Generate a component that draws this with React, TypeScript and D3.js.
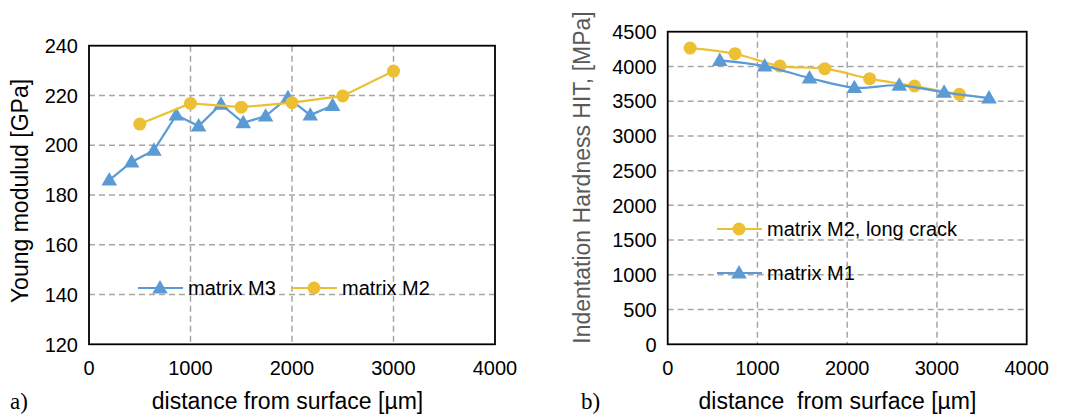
import React from "react";
import * as d3 from "d3";

// ---- data: panel a) ----
const aM3X = [200, 420, 640, 860, 1080, 1300, 1520, 1740, 1960, 2180, 2400];
const aM3Y = [186, 193.3, 198, 212.1, 207.7, 216.5, 209, 211.7, 219.1, 212.1, 216];
const aM2X = [500, 1000, 1500, 2000, 2500, 3000];
const aM2Y = [208.5, 216.8, 215.3, 217.1, 219.8, 229.8];
const aYTicks = [120, 140, 160, 180, 200, 220, 240];
const xTicks = [0, 1000, 2000, 3000, 4000];

// ---- data: panel b) ----
const bM2X = [250, 750, 1250, 1750, 2250, 2750, 3250];
const bM2Y = [4264, 4183, 4005, 3968, 3824, 3718, 3598];
const bM1X = [580, 1080, 1580, 2080, 2580, 3080, 3580];
const bM1Y = [4087, 4005, 3833, 3695, 3728, 3627, 3545];
const bYTicks = [0, 500, 1000, 1500, 2000, 2500, 3000, 3500, 4000, 4500];

const BLUE = "#5B9BD5";
const GOLD = "#EDBF33";
const GRID = "#A6A6A6";
const SANS = "'Liberation Sans', Arial, sans-serif";
const SERIF = "'Liberation Serif', 'Times New Roman', serif";

const tri = d3.symbol().type(d3.symbolTriangle).size(105)() as string;

function Circle({ x, y, c }: { x: number; y: number; c: string }) {
  return <circle cx={x} cy={y} r={6.5} fill={c} />;
}
function Tri({ x, y, c }: { x: number; y: number; c: string }) {
  return <path d={tri} transform={`translate(${x},${y + 1})`} fill={c} />;
}

function Panel(props: {
  x0: number; x1: number; y0: number; y1: number;
  yDomain: [number, number]; yTicks: number[];
  series: { xs: number[]; ys: number[]; color: string; marker: "c" | "t" }[];
  smooth: boolean;
}) {
  const { x0, x1, y0, y1, yDomain, yTicks, series, smooth } = props;
  const xs = d3.scaleLinear().domain([0, 4000]).range([x0, x1]);
  const ys = d3.scaleLinear().domain(yDomain).range([y1, y0]);
  return (
    <g>
      {yTicks.slice(1, -1).map((t) => (
        <line key={"h" + t} x1={x0} x2={x1} y1={ys(t)} y2={ys(t)} stroke={GRID} strokeWidth={1.5} strokeDasharray="6,4" />
      ))}
      {xTicks.slice(1, -1).map((t) => (
        <line key={"v" + t} x1={xs(t)} x2={xs(t)} y1={y0} y2={y1} stroke={GRID} strokeWidth={1.5} strokeDasharray="6,4" />
      ))}
      {yTicks.map((t) => (
        <text key={"yl" + t} x={x0 - 11} y={ys(t)} dy="0.36em" textAnchor="end" fontFamily={SANS} fontSize={20} fill="#000">{t}</text>
      ))}
      {xTicks.map((t) => (
        <text key={"xl" + t} x={xs(t)} y={375} textAnchor="middle" fontFamily={SANS} fontSize={20} fill="#000">{t}</text>
      ))}
      {series.map((s, i) => {
        const pts = s.xs.map((v, j) => [xs(v), ys(s.ys[j])] as [number, number]);
        const line = d3.line().curve(smooth ? d3.curveCatmullRom.alpha(0.5) : d3.curveLinear);
        return (
          <g key={i}>
            <path d={line(pts) as string} fill="none" stroke={s.color} strokeWidth={2.2} />
            {pts.map((p, j) =>
              s.marker === "c" ? <Circle key={j} x={p[0]} y={p[1]} c={s.color} /> : <Tri key={j} x={p[0]} y={p[1]} c={s.color} />
            )}
          </g>
        );
      })}
      <rect x={x0} y={y0} width={x1 - x0} height={y1 - y0} fill="none" stroke="#000" strokeWidth={1.8} />
    </g>
  );
}

function LegendItem({ x, y, c, m, label }: { x: number; y: number; c: string; m: "c" | "t"; label: string }) {
  return (
    <g>
      <line x1={x} x2={x + 45} y1={y} y2={y} stroke={c} strokeWidth={2.2} />
      {m === "c" ? <Circle x={x + 22} y={y} c={c} /> : <Tri x={x + 22} y={y} c={c} />}
      <text x={x + 50} y={y + 7} fontFamily={SANS} fontSize={20} fill="#000">{label}</text>
    </g>
  );
}

export default function App() {
  return (
    <svg width={1069} height={415} style={{ position: "absolute", left: 0, top: 0, background: "#fff" }}>
      <rect width={1069} height={415} fill="#fff" />
      <Panel
        x0={89} x1={495} y0={45.7} y1={344.3}
        yDomain={[120, 240]} yTicks={aYTicks} smooth={false}
        series={[
          { xs: aM3X, ys: aM3Y, color: BLUE, marker: "t" },
          { xs: aM2X, ys: aM2Y, color: GOLD, marker: "c" },
        ]}
      />
      <LegendItem x={138} y={288} c={BLUE} m="t" label="matrix M3" />
      <LegendItem x={292} y={288} c={GOLD} m="c" label="matrix M2" />
      <text transform="translate(28,191) rotate(-90)" textAnchor="middle" fontFamily={SANS} fontSize={23} fill="#000">Young modulud [GPa]</text>
      <text x={287.5} y={409} textAnchor="middle" fontFamily={SANS} fontSize={23} fill="#000">distance from surface [µm]</text>
      <text x={10} y={409} fontFamily={SERIF} fontSize={23} fill="#000">a)</text>

      <Panel
        x0={667.7} x1={1026.7} y0={31.7} y1={344.3}
        yDomain={[0, 4500]} yTicks={bYTicks} smooth={true}
        series={[
          { xs: bM2X, ys: bM2Y, color: GOLD, marker: "c" },
          { xs: bM1X, ys: bM1Y, color: BLUE, marker: "t" },
        ]}
      />
      <LegendItem x={717} y={229} c={GOLD} m="c" label="matrix M2, long crack" />
      <LegendItem x={717} y={273} c={BLUE} m="t" label="matrix M1" />
      <text transform="translate(590,177.5) rotate(-90)" textAnchor="middle" fontFamily={SANS} fontSize={23} fill="#595959">Indentation Hardness HIT, [MPa]</text>
      <text x={837.5} y={409} textAnchor="middle" fontFamily={SANS} fontSize={23} fill="#000" style={{ whiteSpace: "pre" }}>{"distance  from surface [µm]"}</text>
      <text x={581} y={409} fontFamily={SERIF} fontSize={23} fill="#000">b)</text>
    </svg>
  );
}
